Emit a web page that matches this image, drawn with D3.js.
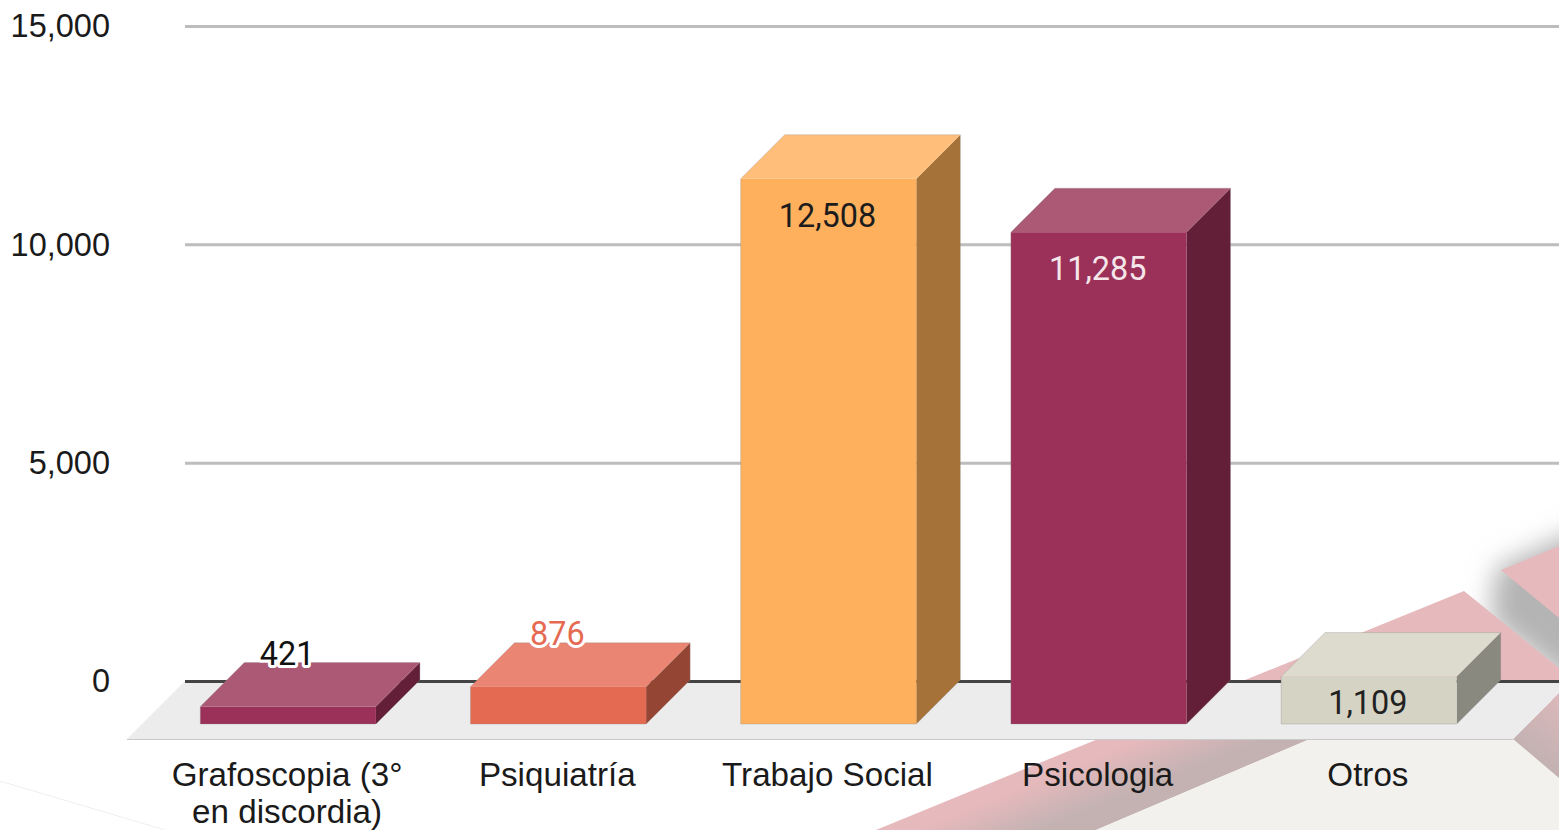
<!DOCTYPE html>
<html>
<head>
<meta charset="utf-8">
<script src="https://cdn.jsdelivr.net/npm/d3@7"></script>
<style>
    html, body { margin: 0; padding: 0; background: #fff; overflow: hidden; }
    text { font-family: Roboto, sans-serif; }
    .axis-label { font-family: "Liberation Sans", Arial, sans-serif; font-size: 32.5px; fill: #1a1a1a; }
    .cat-label { font-family: "Liberation Sans", Arial, sans-serif; font-size: 33.2px; fill: #1a1a1a; }
    .value-label { font-size: 32.4px; }
</style>
</head>
<body>
<svg id="chart" width="1559" height="830"></svg>
<script>
const categories = ["Grafoscopia (3°|en discordia)", "Psiquiatría", "Trabajo Social", "Psicologia", "Otros"];
const values = [421, 876, 12508, 11285, 1109];
const yTicks = [0, 5000, 10000, 15000];

const frontColors = ["#9b3159", "#e56a52", "#ffb05c", "#9b3159", "#d5d3c4"];
const topColors = ["#ac5976", "#e98572", "#ffbf7b", "#ac5976", "#dddbce"];
const sideColors = ["#641f38", "#954533", "#a5723a", "#641f38", "#8a897f"];
const labelColors = ["#111", "#e56a52", "#1c1c1c", "#f5e6ea", "#222"];

const width = 1559;
const height = 830;
const depth = 44;

const y = d3.scaleLinear().domain([0, 15000]).range([681, 26]);
const x = d3.scaleBand()
    .domain(categories)
    .range([153, 1504])
    .paddingInner(0.35)
    .paddingOuter(0.175);

const svg = d3.select("#chart");
const fmt = d3.format(",");

// Faded background decoration behind the plot
const defs = svg.append("defs");

function addFade(id, x1, y1, x2, y2, from, to) {
    const fade = defs.append("linearGradient")
        .attr("id", id)
        .attr("gradientUnits", "userSpaceOnUse")
        .attr("x1", x1).attr("y1", y1).attr("x2", x2).attr("y2", y2);
    fade.append("stop").attr("offset", 0).attr("stop-color", from);
    fade.append("stop").attr("offset", 1).attr("stop-color", to);
}
addFade("band-fade", 1006, 794, 1023, 836, "#e6b9bc", "#c4b2b2");
addFade("wedge-fade", 1559, 697, 1525, 745, "#dcb8bb", "#c4b2b2");

defs.append("filter").attr("id", "soft")
    .attr("x", "-50%").attr("y", "-50%").attr("width", "200%").attr("height", "200%")
    .append("feGaussianBlur").attr("stdDeviation", 13);

const background = svg.append("g").attr("class", "background");

background.append("polygon")
    .attr("points", "1496,568 1590,525 1590,700 1490,620")
    .attr("fill", "#b4b4b4")
    .attr("filter", "url(#soft)");
background.append("polygon")
    .attr("points", "1464,591 1559,668 1559,700 1196,700")
    .attr("fill", "#e6b9bc");
background.append("polygon")
    .attr("points", "1098,739 1310,739 1096,830 876,830")
    .attr("fill", "url(#band-fade)");
background.append("polygon")
    .attr("points", "1310,739 1513,739 1559,778 1559,830 1096,830")
    .attr("fill", "#f2f1ee");
background.append("polygon")
    .attr("points", "1559,693 1513,739 1559,778")
    .attr("fill", "url(#wedge-fade)");
background.append("polygon")
    .attr("points", "1501,570 1559,546 1559,618")
    .attr("fill", "#e6b9bc");
background.append("line")
    .attr("x1", 0).attr("y1", 781).attr("x2", 165).attr("y2", 830)
    .attr("stroke", "#eeeeee").attr("stroke-width", 1);

// Floor of the 3D plot
svg.append("polygon")
    .attr("points", [[185, y(0)], [width, y(0)], [width, 693], [1513, 739], [127, 739]].join(" "))
    .attr("fill", "#ececed");
svg.append("line")
    .attr("x1", 127).attr("y1", 739.5).attr("x2", 1513).attr("y2", 739.5)
    .attr("stroke", "#c9c9c9").attr("stroke-width", 1);

// Gridlines and y axis
const grid = svg.append("g")
    .attr("transform", "translate(185,0)")
    .call(d3.axisLeft(y).tickValues(yTicks).tickSize(-(width - 185)).tickFormat(fmt));
grid.select(".domain").remove();
grid.selectAll(".tick line")
    .attr("stroke", d => d === 0 ? "#444" : "#bdbdbd")
    .attr("stroke-width", 3);
grid.selectAll(".tick text")
    .attr("class", "axis-label")
    .attr("x", -75)
    .attr("dy", "0.33em");

// Bars
const bars = svg.append("g").selectAll("g")
    .data(categories)
    .join("g");

const frontY = (i) => y(values[i]) + depth;
const baseY = y(0) + depth - 1;

bars.append("polygon")
    .attr("points", (d, i) => {
        const x0 = x(d) + x.bandwidth();
        return [[x0, frontY(i)], [x0 + depth, frontY(i) - depth], [x0 + depth, baseY - depth], [x0, baseY]].join(" ");
    })
    .attr("fill", (d, i) => sideColors[i]);

bars.append("polygon")
    .attr("points", (d, i) => {
        const x0 = x(d);
        const x1 = x0 + x.bandwidth();
        return [[x0, frontY(i)], [x0 + depth, frontY(i) - depth], [x1 + depth, frontY(i) - depth], [x1, frontY(i)]].join(" ");
    })
    .attr("fill", (d, i) => topColors[i]);

bars.append("rect")
    .attr("x", d => x(d))
    .attr("y", (d, i) => frontY(i))
    .attr("width", x.bandwidth())
    .attr("height", (d, i) => baseY - frontY(i))
    .attr("fill", (d, i) => frontColors[i]);

// Thin grey silhouette round each box
bars.append("polygon")
    .attr("points", (d, i) => {
        const x0 = x(d);
        const x1 = x0 + x.bandwidth();
        return [[x0, baseY], [x0, frontY(i)], [x0 + depth, frontY(i) - depth], [x1 + depth, frontY(i) - depth], [x1 + depth, baseY - depth], [x1, baseY]].join(" ");
    })
    .attr("fill", "none")
    .attr("stroke", "#888")
    .attr("stroke-opacity", 0.3);

// Value labels: the two short bars carry theirs above, with a white halo
const labelOutside = (v) => v < 1000;

bars.append("text")
    .attr("class", "value-label")
    .attr("text-anchor", "middle")
    .attr("x", d => x(d) + x.bandwidth() / 2 - 1)
    .attr("y", (d, i) => labelOutside(values[i]) ? frontY(i) - 42 : Math.min(frontY(i) + 48, baseY - 10))
    .attr("fill", (d, i) => labelColors[i])
    .attr("stroke", (d, i) => labelOutside(values[i]) ? "#fff" : "none")
    .attr("stroke-width", 6)
    .attr("stroke-linejoin", "round")
    .attr("paint-order", "stroke")
    .text((d, i) => fmt(values[i]));

// Category labels, split over lines where the original wraps
const catLabels = svg.append("g").selectAll("text")
    .data(categories)
    .join("text")
    .attr("class", "cat-label")
    .attr("text-anchor", "middle")
    .attr("y", 786);

catLabels.selectAll("tspan")
    .data(d => d.split("|").map(line => ({ line, cat: d })))
    .join("tspan")
    .attr("x", d => x(d.cat) + x.bandwidth() / 2 - 1)
    .attr("dy", (d, i) => i === 0 ? 0 : 37)
    .text(d => d.line);
</script>
</body>
</html>
